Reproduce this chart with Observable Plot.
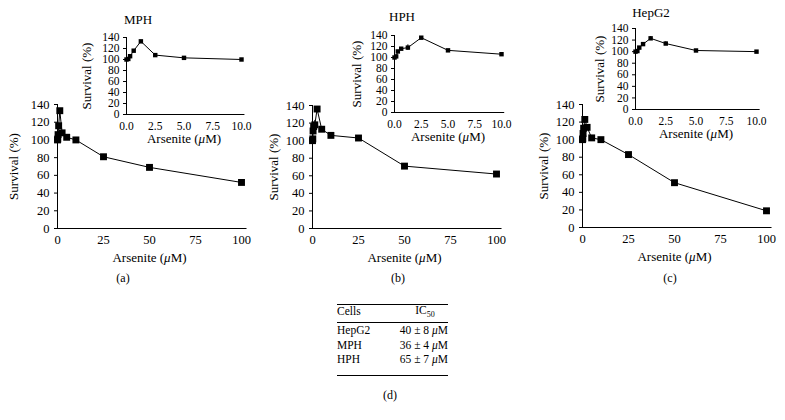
<!DOCTYPE html>
<html>
<head>
<meta charset="utf-8">
<script src="https://cdn.jsdelivr.net/npm/d3@7"></script>
<script src="https://cdn.jsdelivr.net/npm/@observablehq/plot@0.6"></script>
<style>
  html, body { margin: 0; padding: 0; background: #fff; }
  #chart { position: relative; width: 785px; height: 420px; background: #fff; font-family: "Liberation Serif", "DejaVu Serif", serif; color: #000; overflow: hidden; }
  #chart svg { position: absolute; left: 0; top: 0; }
  #chart svg, #chart svg g, #chart svg text { font-family: "Liberation Serif", "DejaVu Serif", serif !important; }
  .lbl { position: absolute; transform: translate(-50%, -50%); white-space: nowrap; line-height: 1; }
  .hline { position: absolute; height: 0; border-top: 1px solid #000; }
</style>
</head>
<body>
<div id="chart"></div>
<script>
// ---- data ----
const concentrations = [0, 0.156, 0.3125, 0.625, 1.25, 2.5, 5, 10, 25, 50, 100];
const mphSurvival   = [100, 101, 106, 116, 133, 108, 103, 100, 81, 69, 52];
const hphSurvival   = [100, 102, 111, 116, 118, 136, 113, 106, 103, 71, 62];
const hepg2Survival = [100, 101, 107, 113, 123, 114, 102, 100, 83, 51, 19];
const mphError      = [0, 0, 0, 1, 2, 1, 1, 1, 1, 1, 1];
const hphError      = [1, 1, 2, 2, 5, 2, 1, 1, 1, 1, 1];
const hepg2Error    = [1, 1, 1, 1, 3, 3, 1, 1, 1, 1, 1];
const mainTicks  = [0, 25, 50, 75, 100];
const insetTicks = [0, 2.5, 5, 7.5, 10];
const survivalTicks = [0, 20, 40, 60, 80, 100, 120, 140];
const panelTitles = ["MPH", "HPH", "HepG2"];
const panelLetters = ["(a)", "(b)", "(c)", "(d)"];
const tableCells = ["HepG2", "MPH", "HPH"];
const ic50Mean = [40, 36, 65];
const ic50Err  = [8, 4, 7];

const W = 785, H = 420;
const FONT = "'Liberation Serif', 'DejaVu Serif', serif";
const chart = document.getElementById("chart");

function rows(values, errs, maxX) {
  return concentrations.map((c, i) => ({c, s: values[i], lo: values[i] - errs[i], hi: values[i] + errs[i]}))
    .filter(d => d.c <= maxX);
}

function drawPanel(o) {
  const [x0, x1, y0, y1] = o.frame;
  const svg = Plot.plot({
    width: W, height: H,
    marginLeft: x0, marginRight: W - x1, marginTop: y0, marginBottom: H - y1,
    style: `background: transparent; font-family: ${FONT}; font-size: ${o.tickFont}px; color: #000;`,
    x: {domain: o.xDomain},
    y: {domain: [0, 140]},
    marks: [
      Plot.axisX({ticks: o.xTicks, tickFormat: o.fmt, tickSize: 0, tickPadding: o.padX, fontFamily: FONT,
        label: "Arsenite (μM)", labelAnchor: "center", labelOffset: o.xLabelOffset, labelArrow: "none"}),
      Plot.axisY({ticks: survivalTicks, tickSize: 3, tickPadding: o.padY, fontFamily: FONT,
        label: "Survival (%)", labelAnchor: "center", labelOffset: o.yLabelOffset, labelArrow: "none"}),
      Plot.ruleX([0], {y1: 0, y2: 140, stroke: "#000"}),
      Plot.ruleY([0], {x1: 0, x2: o.xLineEnd, stroke: "#000"}),
      Plot.ruleX(o.data, {x: "c", y1: "lo", y2: "hi", stroke: "#000", strokeWidth: 1}),
      Plot.line(o.data, {x: "c", y: "s", stroke: "#000", strokeWidth: 1}),
      Plot.dot(o.data, {x: "c", y: "s", symbol: "square", r: o.r, fill: "#000", stroke: "none"})
    ]
  });
  svg.setAttribute("font-family", FONT);
  svg.querySelectorAll("text").forEach(t => {
    t.setAttribute("font-family", FONT);
    const s = t.textContent;
    if (s.includes("Arsenite")) {
      t.style.fontSize = "13px";
      t.innerHTML = 'Arsenite (<tspan font-style="italic">μ</tspan>M)';
    } else if (s.includes("Survival")) {
      t.style.fontSize = "13px";
    }
  });
  chart.appendChild(svg);
}

const series = [mphSurvival, hphSurvival, hepg2Survival];
const errors = [mphError, hphError, hepg2Error];
const mainFrames  = [[57, 241, 104, 228], [312, 496, 105, 228], [582, 766, 104, 227]];
const insetFrames = [[126, 241, 37, 114], [394, 501, 35, 112], [635, 756, 28, 109]];
const mainYOff  = [49, 44, 44];
const insetYOff = [45, 43, 41];

series.forEach((vals, i) => {
  drawPanel({data: rows(vals, errors[i], 100), frame: mainFrames[i], xDomain: [0, 100], xTicks: mainTicks, tickFont: 12.5,
    fmt: d3.format("d"), padX: 6.5, padY: 5, xLabelOffset: 33, yLabelOffset: mainYOff[i], xLineEnd: 103, r: 3.9});
  drawPanel({data: rows(vals, errors[i], 10), frame: insetFrames[i], xDomain: [0, 10], xTicks: insetTicks, tickFont: 11.5,
    fmt: d3.format(".1f"), padX: 7, padY: 4, xLabelOffset: 28, yLabelOffset: insetYOff[i], xLineEnd: 10.3, r: 2.5});
});

function label(text, x, y, size) {
  const d = document.createElement("div");
  d.className = "lbl";
  d.style.left = x + "px"; d.style.top = y + "px"; d.style.fontSize = size + "px";
  d.textContent = text;
  chart.appendChild(d);
}

// titles and panel letters
const titlePos = [[138, 19], [402, 16], [651, 12]];
panelTitles.forEach((t, i) => label(t, titlePos[i][0], titlePos[i][1], 13));
const letterPos = [[123, 278], [398, 278], [670, 278], [390, 395]];
panelLetters.forEach((t, i) => label(t, letterPos[i][0], letterPos[i][1], 12));

// table (d)
const tx0 = 337, tx1 = 448;
function hline(y) {
  const d = document.createElement("div");
  d.className = "hline";
  d.style.left = tx0 + "px"; d.style.width = (tx1 - tx0) + "px"; d.style.top = y + "px";
  chart.appendChild(d);
}
hline(304); hline(322); hline(375);
function tcell(html, x, y, align) {
  const d = document.createElement("div");
  d.style.position = "absolute"; d.style.fontSize = "11.5px"; d.style.lineHeight = "1"; d.style.whiteSpace = "nowrap";
  d.style.top = y + "px";
  if (align === "left") { d.style.left = x + "px"; d.style.transform = "translateY(-50%)"; }
  else if (align === "right") { d.style.right = (W - x) + "px"; d.style.transform = "translateY(-50%)"; }
  else { d.style.left = x + "px"; d.style.transform = "translate(-50%, -50%)"; }
  d.innerHTML = html;
  chart.appendChild(d);
}
tcell("Cells", tx0, 312, "left");
tcell('IC<sub style="font-size:8px">50</sub>', 425, 312, "center");
tableCells.forEach((c, i) => {
  const y = 331 + i * 14.5;
  tcell(c, tx0, y, "left");
  tcell(`${ic50Mean[i]} ± ${ic50Err[i]} <i>μ</i>M`, tx1, y, "right");
});
</script>
</body>
</html>
